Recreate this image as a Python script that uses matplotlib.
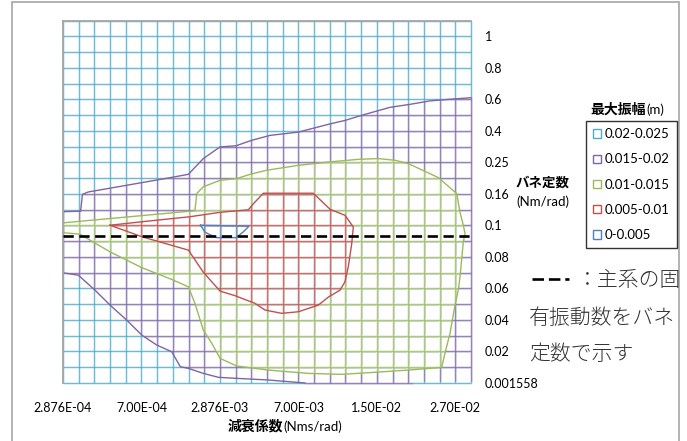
import matplotlib
matplotlib.use("Agg")
import matplotlib.pyplot as plt
from matplotlib.collections import LineCollection
from matplotlib.patches import PathPatch, Patch, Rectangle
from matplotlib.path import Path
from matplotlib.lines import Line2D

plt.rcParams['font.family'] = ['Lato', 'Noto Sans CJK JP', 'DejaVu Sans']
plt.rcParams['lines.scale_dashes'] = False

W, H = 687, 441

# ---- grid of the surface (columns: damping, rows: spring constant) ----
n_damping = 27
n_stiffness = 24
damping_tick_idx = [0, 5, 10, 15, 20, 25]
damping_tick_labels = ['2.876E-04', '7.00E-04', '2.876E-03', '7.00E-03', '1.50E-02', '2.70E-02']
stiffness_tick_idx = [0, 2, 4, 6, 8, 10, 12, 14, 16, 18, 20, 22]
stiffness_tick_labels = ['0.001558', '0.02', '0.04', '0.06', '0.08', '0.1',
                         '0.16', '0.25', '0.4', '0.6', '0.8', '1']

band_labels = ['0.02-0.025', '0.015-0.02', '0.01-0.015', '0.005-0.01', '0-0.005']
band_colors = ['#4BACC6', '#8064A2', '#9BBB59', '#C0504D', '#4F81BD']

# ---- contour lines of the max amplitude, in (damping index, stiffness index) ----
# 0.02 m, upper branch (left edge -> right edge)
c020_upper_x = [0.0, 1.12, 1.24, 1.61, 6.50, 7.99, 8.94, 10.01, 11.02, 12.03, 13.19,
                15.00, 17.02, 17.97, 19.12, 20.84, 22.11, 23.39, 24.47, 26.0]
c020_upper_y = [10.87, 10.90, 11.97, 12.12, 12.97, 13.24, 14.24, 14.98, 15.05, 15.40, 15.71,
                15.92, 16.44, 16.66, 17.01, 17.49, 17.68, 17.90, 17.99, 18.10]
# 0.02 m, lower-left branch (left edge -> bottom edge)
c020_lower_x = [0.0, 0.98, 2.04, 3.00, 4.06, 5.02, 5.97, 6.93, 7.48, 7.99, 8.94,
                9.90, 10.96, 13.08, 15.42]
c020_lower_y = [6.99, 6.84, 5.89, 4.94, 3.99, 3.04, 2.41, 1.98, 1.03, 0.93, 0.61,
                0.36, 0.30, 0.19, 0.0]
# 0.02 m, sliver along the bottom right
c020_corner_x = [22.3, 26.0]
c020_corner_y = [0.06, 0.06]
# 0.015 m (open towards the left edge)
c015_x = [0.0, 1.08, 8.41, 8.52, 8.94, 10.01, 11.07, 11.92, 12.98, 15.00, 16.91, 18.82,
          20.09, 21.16, 22.01, 23.92, 25.09, 25.30, 25.51, 25.62, 25.51, 25.41, 25.30,
          25.19, 24.98, 24.66, 24.34, 24.13, 22.01, 19.88, 17.76, 15.63, 13.08, 11.07,
          10.01, 9.48, 8.94, 8.41, 7.99, 7.03, 5.02, 3.00, 1.08, 0.0]
c015_y = [10.16, 10.26, 10.93, 12.02, 12.45, 12.86, 12.97, 13.24, 13.50, 13.81, 14.02, 14.19,
          14.24, 14.13, 13.92, 13.03, 12.02, 10.83, 10.01, 9.48, 8.95, 7.90, 6.74,
          5.89, 4.94, 3.15, 1.88, 0.99, 0.82, 0.68, 0.55, 0.61, 0.82, 1.08,
          1.56, 2.52, 3.36, 5.05, 6.10, 6.53, 7.32, 8.32, 9.44, 9.54]
# 0.01 m (closed)
c010_x = [3.00, 5.02, 8.09, 10.01, 11.81, 12.13, 12.77, 15.95, 17.02, 17.97, 18.50, 18.40,
          18.18, 17.97, 17.65, 16.91, 16.27, 15.00, 13.94, 12.87, 12.24, 10.96, 10.01,
          8.94, 7.99, 5.02, 3.00]
c010_y = [10.01, 10.23, 10.55, 10.83, 10.99, 11.37, 12.04, 12.04, 11.02, 10.64, 9.90, 8.85,
          7.37, 6.42, 5.89, 5.45, 4.94, 4.52, 4.42, 4.63, 5.05, 5.54, 5.83,
          7.03, 8.43, 9.28, 10.01]
# 0.005 m (closed)
c005_x = [8.76, 11.85, 11.47, 11.02, 9.81, 9.37, 9.05, 8.76]
c005_y = [10.01, 9.95, 9.57, 9.22, 9.22, 9.41, 9.57, 10.01]

# main-system natural frequency expressed on the spring-constant axis
natural_freq_row = 9.33

# ---- figure ----
fig = plt.figure(figsize=(W / 100, H / 100), dpi=100)
ax = fig.add_axes([63 / W, (H - 383) / H, 408 / W, 362.5 / H])
ax.set_xlim(0, n_damping - 1)
ax.set_ylim(0, n_stiffness - 1)
for s in ax.spines.values():
    s.set_visible(False)
ax.set_facecolor('none')

GRID_LW = 1.05
EDGE_LW = 1.0


def grid_segments():
    segs = [[(i, 0), (i, n_stiffness - 1)] for i in range(n_damping)]
    segs += [[(0, j), (n_damping - 1, j)] for j in range(n_stiffness)]
    return segs


def clipped(collection, region):
    patch = PathPatch(Path(region, closed=True), transform=ax.transData,
                      facecolor='none', edgecolor='none')
    collection.set_clip_path(patch)
    collection.set_clip_box(None)


def draw_band(color, region=None, z=1):
    lc = LineCollection(grid_segments(), colors=color, linewidths=GRID_LW, zorder=z,
                        alpha=0.8)
    ax.add_collection(lc)
    if region is None:
        lc.set_clip_on(False)
    else:
        # white underlay so the band fully replaces the colour beneath it
        under = LineCollection(grid_segments(), colors='white',
                               linewidths=GRID_LW + 0.5, zorder=z - 0.5)
        ax.add_collection(under)
        clipped(under, region)
        clipped(lc, region)


# regions of each band, extended slightly past the frame so edge lines take the band colour
m = 0.5
purple_region = ([(-m, c020_upper_y[0])] + list(zip(c020_upper_x, c020_upper_y))
                 + [(26 + m, c020_upper_y[-1]), (26 + m, c020_corner_y[-1]),
                    (c020_corner_x[0], c020_corner_y[0]), (c020_corner_x[0], -m),
                    (c020_lower_x[-1], -m)]
                 + list(zip(c020_lower_x[::-1], c020_lower_y[::-1]))
                 + [(-m, c020_lower_y[0])])
green_region = ([(-m, c015_y[0])] + list(zip(c015_x, c015_y)) + [(-m, c015_y[-1])])
red_region = list(zip(c010_x, c010_y))
blue_region = list(zip(c005_x, c005_y))

draw_band(band_colors[0], None, 1)
draw_band(band_colors[1], purple_region, 2)
draw_band(band_colors[2], green_region, 3)
draw_band(band_colors[3], red_region, 4)
draw_band(band_colors[4], blue_region, 5)

# contour boundaries
ax.plot(c020_upper_x, c020_upper_y, color=band_colors[1], lw=EDGE_LW, zorder=6, clip_on=False)
ax.plot(c020_lower_x, c020_lower_y, color=band_colors[1], lw=EDGE_LW, zorder=6, clip_on=False)
ax.plot(c015_x, c015_y, color=band_colors[2], lw=EDGE_LW, zorder=6, clip_on=False)
ax.plot(c010_x, c010_y, color=band_colors[3], lw=EDGE_LW, zorder=6, clip_on=False)
ax.plot(c005_x, c005_y, color=band_colors[4], lw=EDGE_LW, zorder=6, clip_on=False)

# frame edges (left and top)
ax.plot([0, 0], [0, n_stiffness - 1], color='#A6A6A6', lw=1.3, zorder=7, clip_on=False)
ax.plot([0, n_damping - 1], [n_stiffness - 1, n_stiffness - 1], color='#A6A6A6', lw=1.3,
        zorder=7, clip_on=False)

# natural frequency line
ax.axhline(natural_freq_row, color='black', lw=1.9, dashes=(7.4, 4.0), zorder=8,
           clip_on=False)

# ticks
ax.set_xticks(damping_tick_idx)
ax.set_xticklabels(damping_tick_labels, fontsize=9)
ax.yaxis.tick_right()
ax.set_yticks(stiffness_tick_idx)
ax.set_yticklabels(stiffness_tick_labels, fontsize=9)
ax.tick_params(axis='x', length=0, pad=14)
ax.tick_params(axis='y', length=0, pad=10)
for t in ax.get_yticklabels():
    t.set_horizontalalignment('left')

# axis titles
fig.text(283 / W, 1 - 427 / H, '減衰係数', ha='right', va='center', fontsize=10,
         fontweight='bold', family=['Noto Sans CJK JP'])
fig.text(283 / W, 1 - 427 / H, '(Nms/rad)', ha='left', va='center', fontsize=9.5)
fig.text(543 / W, 1 - 183 / H, 'バネ定数', ha='center', va='center', fontsize=9.7,
         fontweight='bold', family=['Noto Sans CJK JP'])
fig.text(543 / W, 1 - 202 / H, '(Nm/rad)', ha='center', va='center', fontsize=9.5)

# legend
fig.text(646 / W, 1 - 110 / H, '最大振幅', ha='right', va='center', fontsize=10,
         fontweight='bold', family=['Noto Sans CJK JP'])
fig.text(646 / W, 1 - 110 / H, '(m)', ha='left', va='center', fontsize=9.5)
handles = [Patch(facecolor='white', edgecolor=c, linewidth=1.0) for c in band_colors]
leg = fig.legend(handles, band_labels, loc='upper left',
                 bbox_to_anchor=(586 / W, 1 - 121 / H), bbox_transform=fig.transFigure,
                 borderaxespad=0, fontsize=9.5, frameon=True, fancybox=False,
                 handlelength=0.6, handleheight=0.6, handletextpad=0.25,
                 labelspacing=1.0, borderpad=0.55)
leg.get_frame().set_edgecolor('black')
leg.get_frame().set_linewidth(1.0)

# note on the dashed line
fig.add_artist(Line2D([532 / W, 569 / W], [1 - 279 / H, 1 - 279 / H], color='black',
                      lw=1.9, dashes=(8.3, 3.5), transform=fig.transFigure))
note_font = dict(fontsize=15, fontweight='light', family=['Noto Sans CJK JP'],
                 va='center', ha='left', color='#333333')
fig.text(577 / W, 1 - 280 / H, '：主系の固', **note_font)
fig.text(529 / W, 1 - 318 / H, '有振動数をバネ', **note_font)
fig.text(529 / W, 1 - 354 / H, '定数で示す', **note_font)

# chart border
fig.add_artist(Rectangle((12.5 / W, -0.05), 666.5 / W, 1 - 1.5 / H + 0.05,
                         transform=fig.transFigure, fill=False, edgecolor='#A6A6A6',
                         lw=1.2))

fig.savefig('out.png', dpi=100)
